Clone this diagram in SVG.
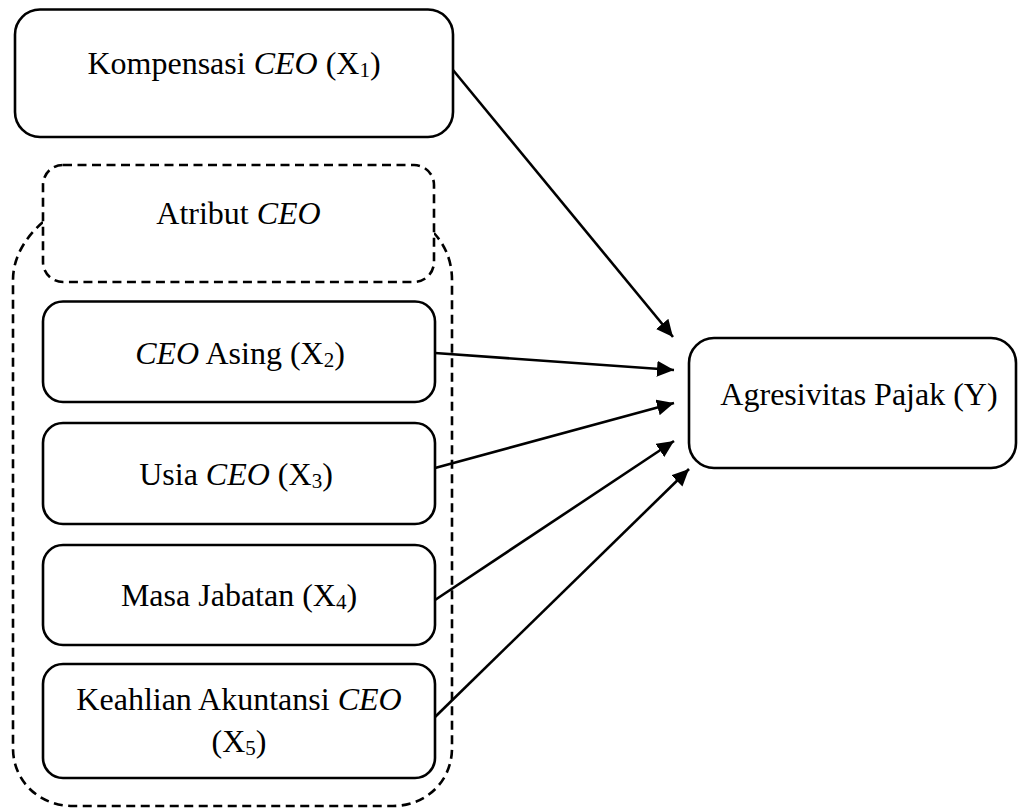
<svg xmlns="http://www.w3.org/2000/svg" width="1019" height="808" viewBox="0 0 1019 808">
<style>
.box{fill:#fff;stroke:#000;stroke-width:2.6}
.dash{fill:none;stroke:#000;stroke-width:2.6;stroke-dasharray:9 5.5}
.dashbox{fill:#fff;stroke:#000;stroke-width:2.6;stroke-dasharray:9 5.5}
.t{font-family:"Liberation Serif","Times New Roman",serif;font-size:32px;fill:#000;text-anchor:middle}
.i{font-style:italic}
.sub{font-size:21px}
.c{stroke:#000;stroke-width:2.6;fill:none;marker-end:url(#ah)}
</style>
<defs>
<marker id="ah" markerUnits="userSpaceOnUse" markerWidth="18" markerHeight="16" refX="17" refY="8" orient="auto">
<path d="M0 0 L17 8 L0 16 Z" fill="#000"/>
</marker>
</defs>
<g id="atribut-group">
<path class="dash" d="M43 222 C28 235 13 255 13 280 L13 748 C13 782 40 806 73 806 L393 806 C425 806 452 782 452 748 L452 280 C452 258 443 243 434 233"/>
</g>
<g id="atribut">
<rect class="dashbox" x="43" y="165" width="391" height="117" rx="20" ry="20"/>
<text class="t" x="238.5" y="224">Atribut <tspan class="i">CEO</tspan></text>
</g>
<g id="x1">
<rect class="box" x="15" y="9.5" width="438" height="127.5" rx="25" ry="25"/>
<text class="t" x="234" y="74">Kompensasi <tspan class="i">CEO</tspan> (X<tspan class="sub" dy="3">1</tspan><tspan dy="-3">)</tspan></text>
</g>
<g id="x2">
<rect class="box" x="43" y="301.5" width="392" height="100.5" rx="20" ry="20"/>
<text class="t" x="240" y="364"><tspan class="i">CEO</tspan> Asing (X<tspan class="sub" dy="3">2</tspan><tspan dy="-3">)</tspan></text>
</g>
<g id="x3">
<rect class="box" x="43" y="423" width="392" height="101" rx="20" ry="20"/>
<text class="t" x="236" y="485">Usia <tspan class="i">CEO</tspan> (X<tspan class="sub" dy="3">3</tspan><tspan dy="-3">)</tspan></text>
</g>
<g id="x4">
<rect class="box" x="43" y="545" width="392" height="100" rx="20" ry="20"/>
<text class="t" x="239" y="606">Masa Jabatan (X<tspan class="sub" dy="3">4</tspan><tspan dy="-3">)</tspan></text>
</g>
<g id="x5">
<rect class="box" x="43" y="664" width="392" height="114" rx="20" ry="20"/>
<text class="t" x="239" y="710">Keahlian Akuntansi <tspan class="i">CEO</tspan></text>
<text class="t" x="239" y="752">(X<tspan class="sub" dy="3">5</tspan><tspan dy="-3">)</tspan></text>
</g>
<g id="y">
<rect class="box" x="689" y="338" width="327" height="130" rx="25" ry="25"/>
<text class="t" x="859" y="405">Agresivitas Pajak (Y)</text>
</g>
<g id="connectors">
<line class="c" x1="453" y1="70" x2="673" y2="337"/>
<line class="c" x1="435" y1="353" x2="674" y2="370"/>
<line class="c" x1="435" y1="468" x2="674" y2="403"/>
<line class="c" x1="435" y1="600" x2="674" y2="441"/>
<line class="c" x1="435" y1="717" x2="689" y2="469"/>
</g>
</svg>
